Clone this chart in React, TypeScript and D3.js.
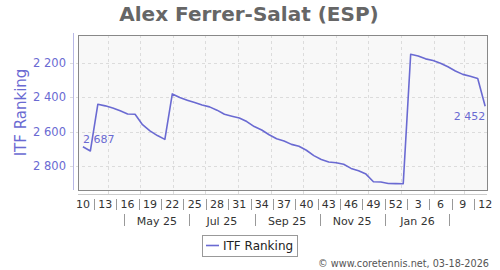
import React from "react";
import * as d3 from "d3";

const title = "Alex Ferrer-Salat (ESP)";
const seriesName = "ITF Ranking";
const firstWeekMonday = "2025-03-03";
const domainStart = "2025-03-03";
const domainEnd = "2026-03-23";
const rankings = [
  2687, 2711, 2441, 2450, 2462, 2479, 2497, 2499, 2559, 2595, 2622, 2644,
  2381, 2402, 2417, 2431, 2445, 2456, 2475, 2499, 2510, 2520, 2541, 2570,
  2590, 2617, 2640, 2653, 2673, 2684, 2707, 2738, 2760, 2775, 2779, 2788,
  2812, 2826, 2845, 2889, 2891, 2899, 2900, 2901, 2151, 2161, 2178, 2188,
  2203, 2224, 2248, 2268, 2279, 2292, 2452,
];
const yTicks = [2200, 2400, 2600, 2800];
const yDomain = [2040, 2937];
const copyright = "© www.coretennis.net, 03-18-2026";

const W = 500;
const H = 270;
const plot = { left: 78, top: 35, right: 487, bottom: 190 };
const lineColor = "#6a6ad2";
const font = "DejaVu Sans";

const parse = d3.utcParse("%Y-%m-%d");
const mondays = rankings.map((_, i) => d3.utcDay.offset(parse(firstWeekMonday)!, i * 7));
const pointDates = mondays.map((m) => d3.utcHour.offset(m, 5 * 24));

const fmtNum = d3.formatLocale({ decimal: ".", thousands: " ", grouping: [3], currency: ["", ""] }).format(",d");

export default function App() {
  const x = d3
    .scaleUtc()
    .domain([parse(domainStart)!, parse(domainEnd)!])
    .range([plot.left - 0.4, plot.right + 0.3]);
  const y = d3.scaleLinear().domain(yDomain).range([plot.top, plot.bottom]);

  const data = rankings.map((v, i) => ({ d: pointDates[i], v }));
  const line = d3
    .line<{ d: Date; v: number }>()
    .x((p) => x(p.d))
    .y((p) => y(p.v));

  const [d0, d1] = x.domain();
  const monthStarts = d3.utcMonth.range(d3.utcDay.offset(d0, 1), d1);
  const allMonths = d3.utcMonth.range(d3.utcMonth.floor(d0), d1);
  const monthMid = (m: Date) => (x(m) + x(d3.utcMonth.offset(m, 1))) / 2;
  const monthLabels = allMonths.filter(
    (m) => m.getUTCMonth() % 2 === 0 && m >= d0 && d3.utcMonth.offset(m, 1) <= d1
  );
  const monthSeps = allMonths.filter(
    (m) => m.getUTCMonth() % 2 === 1 && m >= d0 && d3.utcMonth.offset(m, 1) <= d1
  );

  const weekIdx = rankings.map((_, i) => i).filter((i) => i % 3 === 0);
  const weekFmt = d3.utcFormat("%V");
  const weekX = (i: number) => x(pointDates[0]) + ((x(pointDates[pointDates.length - 1]) - x(pointDates[0])) * i) / (rankings.length - 1);

  const last = data[data.length - 1];
  const first = data[0];

  return (
    <svg
      width={W}
      height={H}
      style={{ position: "absolute", left: 0, top: 0, background: "#fff" }}
      fontFamily={font}
    >
      <text x={249} y={21} textAnchor="middle" fontSize={20} fontWeight="bold" fill="#666">
        {title}
      </text>

      <rect
        x={plot.left + 0.5}
        y={plot.top + 0.5}
        width={plot.right - plot.left}
        height={plot.bottom - plot.top}
        fill="#f8f8f8"
        stroke="none"
      />
      {monthStarts.map((m, i) => (
        <line
          key={"vg" + i}
          x1={Math.round(x(m)) + 0.5}
          x2={Math.round(x(m)) + 0.5}
          y1={plot.top}
          y2={plot.bottom + 4}
          stroke="#dcdcdc"
          strokeDasharray="3,3"
        />
      ))}
      {yTicks.map((t) => (
        <line
          key={"hg" + t}
          x1={70}
          x2={plot.right}
          y1={Math.round(y(t)) + 0.5}
          y2={Math.round(y(t)) + 0.5}
          stroke="#dcdcdc"
          strokeDasharray="3,3"
        />
      ))}
      <rect
        x={plot.left + 0.5}
        y={plot.top + 0.5}
        width={plot.right - plot.left}
        height={plot.bottom - plot.top}
        fill="none"
        stroke="#888"
      />

      <line x1={73.5} x2={73.5} y1={33} y2={plot.bottom} stroke="#b8b8e6" />
      {yTicks.map((t) => (
        <text
          key={"yl" + t}
          x={66}
          y={y(t) + 4}
          textAnchor="end"
          fontSize={11.5}
          fill={lineColor}
        >
          {fmtNum(t)}
        </text>
      ))}
      <text
        transform={`translate(26,112.5) rotate(-90)`}
        textAnchor="middle"
        fontSize={15}
        fill={lineColor}
      >
        {seriesName}
      </text>

      <line x1={plot.left} x2={plot.right} y1={194.5} y2={194.5} stroke="#cccccc" />

      {weekIdx.map((i) => (
        <text
          key={"wl" + i}
          x={weekX(i)}
          y={208}
          textAnchor="middle"
          fontSize={11}
          fill="#333"
        >
          {String(parseInt(weekFmt(mondays[i]), 10))}
        </text>
      ))}
      {weekIdx.slice(0, -1).map((i) => (
        <line
          key={"ws" + i}
          x1={Math.round(weekX(i + 1.5)) + 0.5}
          x2={Math.round(weekX(i + 1.5)) + 0.5}
          y1={199}
          y2={210}
          stroke="#999"
        />
      ))}
      {monthLabels.map((m, i) => (
        <text
          key={"ml" + i}
          x={monthMid(m)}
          y={225}
          textAnchor="middle"
          fontSize={11}
          fill="#333"
        >
          {d3.utcFormat("%b %y")(m)}
        </text>
      ))}
      {monthSeps.map((m, i) => (
        <line
          key={"ms" + i}
          x1={Math.round(monthMid(m)) + 0.5}
          x2={Math.round(monthMid(m)) + 0.5}
          y1={214}
          y2={226}
          stroke="#999"
        />
      ))}

      <path d={line(data) || ""} fill="none" stroke={lineColor} strokeWidth={1.6} strokeLinejoin="round" />
      <text x={x(first.d)} y={y(first.v) - 4} fontSize={11} fill={lineColor}>
        {fmtNum(first.v)}
      </text>
      <text x={x(last.d)} y={y(last.v) + 14} textAnchor="end" fontSize={11} fill={lineColor}>
        {fmtNum(last.v)}
      </text>

      <rect x={202.5} y={235.5} width={95} height={21} fill="#fff" stroke="#999" />
      <line x1={206} x2={219} y1={245.5} y2={245.5} stroke={lineColor} strokeWidth={1.6} />
      <text x={223} y={250} fontSize={12} fill="#222">
        {seriesName}
      </text>

      <text x={489} y={267} textAnchor="end" fontSize={9.7} fill="#555">
        {copyright}
      </text>
    </svg>
  );
}
